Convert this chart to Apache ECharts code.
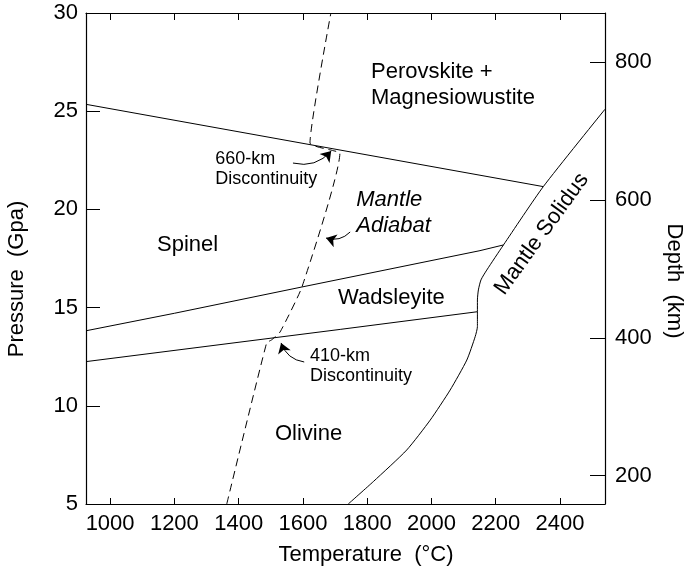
<!DOCTYPE html>
<html>
<head>
<meta charset="utf-8">
<script src="https://cdn.jsdelivr.net/npm/echarts@6/dist/echarts.min.js"></script>
<style>
html, body { margin: 0; background: #fff; }
#main { width: 686px; height: 568px; }
</style>
</head>
<body>
<div id="main"></div>
<script>
// axis ticks
const tempTicks = [1000, 1200, 1400, 1600, 1800, 2000, 2200, 2400];
const depthTicks = [200, 400, 600, 800];

// phase boundaries (T in °C, P in GPa)
const b660T = [925, 2348];
const b660P = [25.35, 21.16];
const spinelT = [925, 1200, 1597, 2151, 2224];
const spinelP = [13.82, 14.71, 16.05, 17.90, 18.19];
const b410T = [925, 1716, 2143];
const b410P = [12.25, 13.89, 14.79];

const solidusT = [1741, 1819, 1923, 1996, 2058, 2110, 2136, 2143, 2143, 2143, 2146, 2154, 2172, 2224, 2348, 2540];
const solidusP = [5.0, 6.14, 7.75, 9.27, 10.80, 12.33, 13.52, 14.03, 14.79, 15.39, 15.90, 16.41, 16.91, 18.19, 21.16, 25.1];

const adiabatT = [1363, 1487, 1502, 1529, 1597, 1715, 1692, 1622, 1687];
const adiabatP = [5.0, 13.20, 13.35, 13.76, 16.05, 22.87, 23.0, 23.38, 30];

// annotation arrows
const arrowFrom = [[1569, 22.36], [1747, 18.85], [1604, 12.23]];
const arrowTo = [[1688, 22.97], [1672, 18.54], [1532, 13.2]];
const arrowBend = [-0.3, 0.3, 0.3];

// region names
const labelText = ['Perovskite +\nMagnesiowustite', '660-km\nDiscontinuity', 'Mantle\nAdiabat', 'Spinel',
  'Wadsleyite', '410-km\nDiscontinuity', 'Olivine', 'Mantle Solidus'];
const labelAt = [[1812, 26.36], [1327, 22.06], [1766, 19.82], [1146, 18.19],
  [1709, 15.51], [1622, 12.0], [1513, 8.56], [2343, 18.75]];

const font = 'Liberation Sans, Arial, Helvetica, sans-serif';
const pair = (xs, ys) => xs.map((x, i) => [x, ys[i]]);

const labelStyle = [
  { fontSize: 22, lineHeight: 26 },
  { fontSize: 18, lineHeight: 20 },
  { fontSize: 22, lineHeight: 26, fontStyle: 'italic' },
  { fontSize: 22 },
  { fontSize: 22 },
  { fontSize: 18, lineHeight: 20 },
  { fontSize: 22 },
  { fontSize: 22, rotate: 54, align: 'center' }
];

const thin = { color: '#000', width: 1 };

const chart = echarts.init(document.getElementById('main'));
chart.setOption({
  backgroundColor: '#fff',
  animation: false,
  textStyle: { fontFamily: font, color: '#000' },
  grid: { left: 86, right: 81, top: 13, bottom: 64 },
  xAxis: [
    {
      type: 'value', min: 925, max: 2540, position: 'bottom',
      axisLine: { lineStyle: { color: '#000', width: 1.2 } },
      axisTick: { inside: true, length: 6, lineStyle: thin, customValues: tempTicks },
      axisLabel: {
        customValues: tempTicks, fontSize: 22, color: '#000', margin: 9, fontFamily: font,
        formatter: v => String(v)
      },
      splitLine: { show: false }
    },
    {
      type: 'value', min: 925, max: 2540, position: 'top',
      axisLine: { lineStyle: { color: '#000', width: 1.2 } },
      axisTick: { inside: true, length: 7, lineStyle: thin, customValues: tempTicks },
      axisLabel: { show: false },
      splitLine: { show: false }
    }
  ],
  yAxis: [
    {
      type: 'value', min: 5, max: 30, interval: 5, position: 'left',
      axisLine: { show: true, lineStyle: { color: '#000', width: 1.2 } },
      axisTick: { show: true, inside: true, length: 14, lineStyle: thin },
      axisLabel: { fontSize: 22, color: '#000', margin: 8, fontFamily: font },
      splitLine: { show: false }
    },
    {
      type: 'value', min: 159, max: 871, position: 'right',
      axisLine: { show: true, lineStyle: { color: '#000', width: 1.2 } },
      axisTick: { show: true, inside: true, length: 15, lineStyle: thin, customValues: depthTicks },
      axisLabel: { customValues: depthTicks, fontSize: 22, color: '#000', margin: 10, fontFamily: font },
      splitLine: { show: false }
    }
  ],
  graphic: [
    {
      type: 'text', x: 17, y: 279, rotation: Math.PI / 2,
      style: { text: 'Pressure  (Gpa)', font: '22px ' + font, fill: '#000', align: 'center', verticalAlign: 'middle' }
    },
    {
      type: 'text', x: 674, y: 281, rotation: -Math.PI / 2,
      style: { text: 'Depth  (km)', font: '22px ' + font, fill: '#000', align: 'center', verticalAlign: 'middle' }
    },
    {
      type: 'text', x: 366, y: 555,
      style: { text: 'Temperature  (°C)', font: '22px ' + font, fill: '#000', align: 'center', verticalAlign: 'middle' }
    }
  ],
  series: [
    { type: 'line', name: '660', data: pair(b660T, b660P), showSymbol: false, lineStyle: thin, silent: true },
    { type: 'line', name: 'spinel', data: pair(spinelT, spinelP), showSymbol: false, lineStyle: thin, silent: true },
    { type: 'line', name: '410', data: pair(b410T, b410P), showSymbol: false, lineStyle: thin, silent: true },
    { type: 'line', name: 'solidus', data: pair(solidusT, solidusP), showSymbol: false, smooth: 0.2, lineStyle: thin, silent: true },
    {
      type: 'line', name: 'adiabat', data: pair(adiabatT, adiabatP), showSymbol: false, smooth: 0.15,
      lineStyle: { color: '#000', width: 1, type: [8, 5] }, silent: true
    },
    {
      type: 'lines', coordinateSystem: 'cartesian2d', silent: true,
      symbol: ['none', 'arrow'], symbolSize: 10,
      lineStyle: { color: '#000', width: 1, opacity: 1 },
      data: arrowFrom.map((p, i) => ({ coords: [p, arrowTo[i]], lineStyle: { curveness: arrowBend[i] } }))
    },
    {
      type: 'scatter', symbolSize: 0, silent: true,
      itemStyle: { opacity: 1 },
      data: labelAt.map((p, i) => ({
        value: p,
        label: Object.assign({
          show: true, formatter: labelText[i], position: [0, 0],
          align: 'left', verticalAlign: 'middle', color: '#000', fontFamily: font
        }, labelStyle[i])
      }))
    }
  ]
});
</script>
</body>
</html>
